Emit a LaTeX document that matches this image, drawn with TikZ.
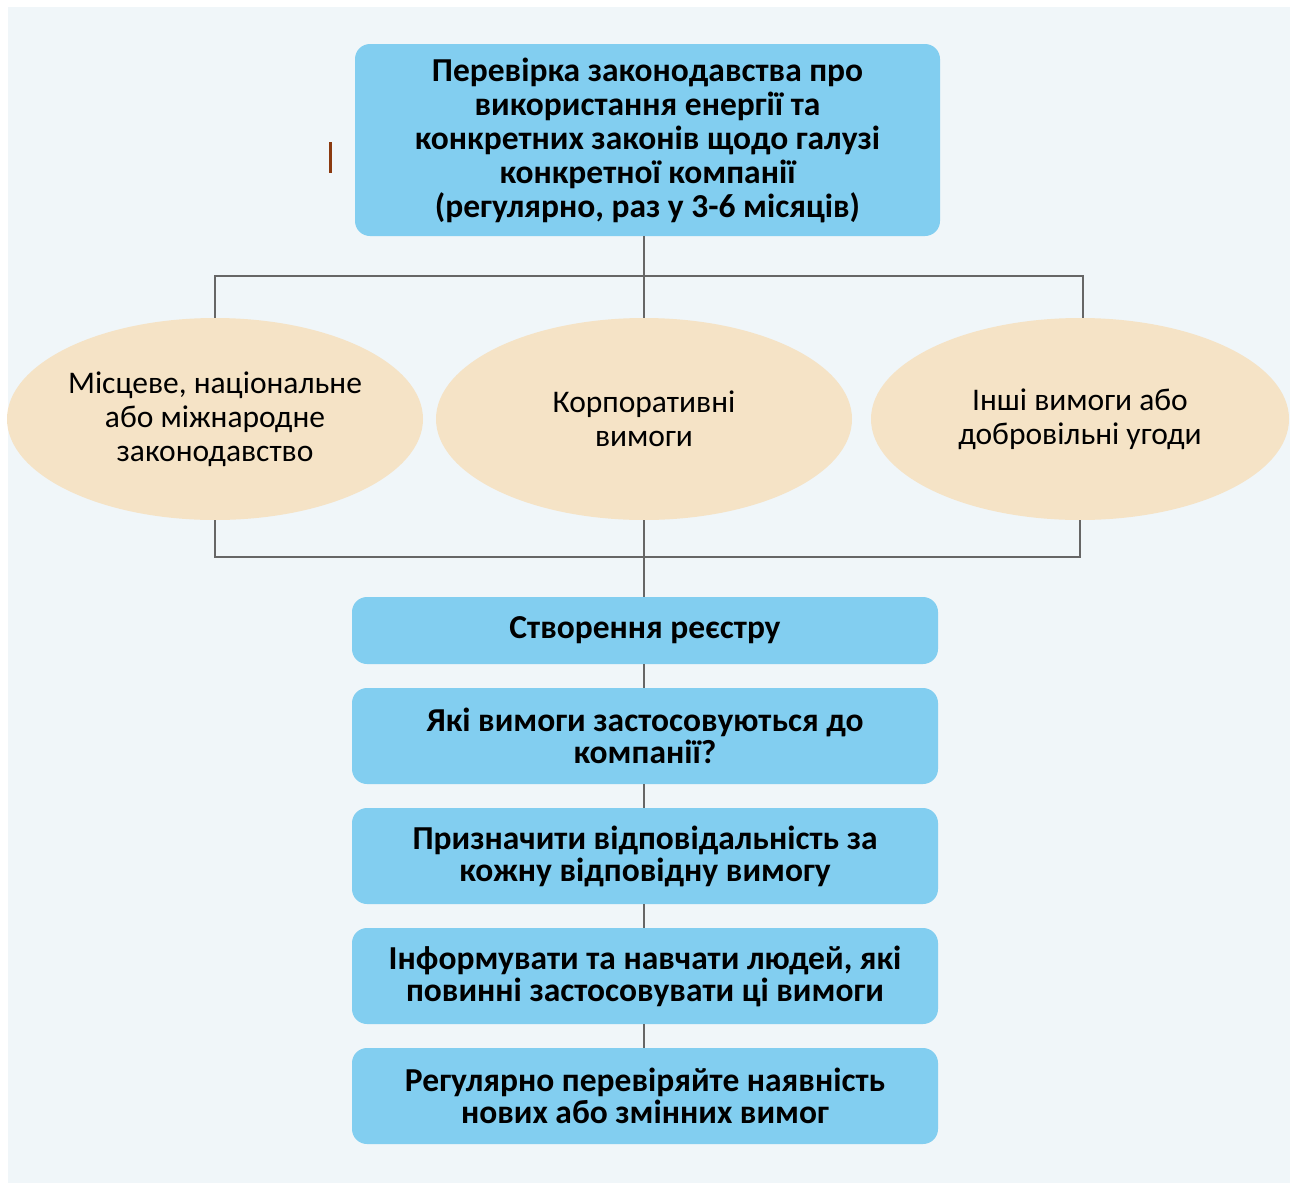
\documentclass[tikz,border=0pt]{standalone}
\usepackage{fontspec}
\setmainfont{Carlito}
\usetikzlibrary{shapes.geometric}
\definecolor{bgc}{HTML}{F0F6F9}
\definecolor{boxc}{HTML}{82CEF0}
\definecolor{ovalc}{HTML}{F5E3C6}
\definecolor{linec}{HTML}{666666}
\definecolor{markc}{HTML}{8B3A10}
\begin{document}
\begin{tikzpicture}[x=1pt,y=-1pt,
  stepbox/.style={rectangle, rounded corners=15pt, fill=boxc, inner sep=0pt,
    minimum width=586pt, align=center, font=\fontsize{33.5}{32}\selectfont\bfseries},
  oval/.style={ellipse, fill=ovalc, inner sep=0pt, minimum width=416pt,
    minimum height=202pt, align=center, font=\fontsize{31.5}{34}\selectfont},
  conn/.style={draw=linec, line width=2pt}]
  \useasboundingbox (0,0) rectangle (1290,1183);
  \fill[bgc] (8,7) rectangle (1290,1183);

  % junction points of the branch lines
  \coordinate (jt) at (644,276);
  \coordinate (jb) at (644,557);

  % top box
  \node[stepbox, minimum width=585pt, minimum height=192pt,
        font=\fontsize{33.5}{34}\selectfont\bfseries] (top) at (647.5,140)
    {Перевірка законодавства про\\використання енергії та\\конкретних законів щодо галузі\\конкретної компанії\\(регулярно, раз у 3-6 місяців)};

  % ellipses
  \node[oval] (left) at (215,419) {Місцеве, національне\\або міжнародне\\законодавство};
  \node[oval] (mid) at (644,419) {Корпоративні\\вимоги};
  \node[oval, minimum width=418pt] (right) at (1080,419) {Інші вимоги або\\добровільні угоди};

  % step boxes
  \node[stepbox, minimum height=67pt] (b1) at (645,630.5) {Створення реєстру};
  \node[stepbox, minimum height=96pt] (b2) at (645,736) {Які вимоги застосовуються до\\компанії?};
  \node[stepbox, minimum height=96pt] (b3) at (645,856) {Призначити відповідальність за\\кожну відповідну вимогу};
  \node[stepbox, minimum height=96pt] (b4) at (645,976) {Інформувати та навчати людей, які\\повинні застосовувати ці вимоги};
  \node[stepbox, minimum height=96pt] (b5) at (645,1096) {Регулярно перевіряйте наявність\\нових або змінних вимог};

  % branch from the top box to the three ellipses
  \draw[conn] (mid.north |- top.south) -- (mid.north);
  \draw[conn] (left.north) |- (jt) -| ([xshift=3pt]right.north);

  % gathering line below the ellipses
  \draw[conn] (left.south) |- (jb) -| (right.south);
  \draw[conn] (mid.south) -- (mid.south |- b1.north);

  % chain of steps
  \draw[conn] (b1.south -| mid.south) -- (b2.north -| mid.south);
  \draw[conn] (b2.south -| mid.south) -- (b3.north -| mid.south);
  \draw[conn] (b3.south -| mid.south) -- (b4.north -| mid.south);
  \draw[conn] (b4.south -| mid.south) -- (b5.north -| mid.south);

  % small vertical mark left of the top box
  \draw[markc, line width=3pt] (330,142) -- (330,173);
\end{tikzpicture}
\end{document}
